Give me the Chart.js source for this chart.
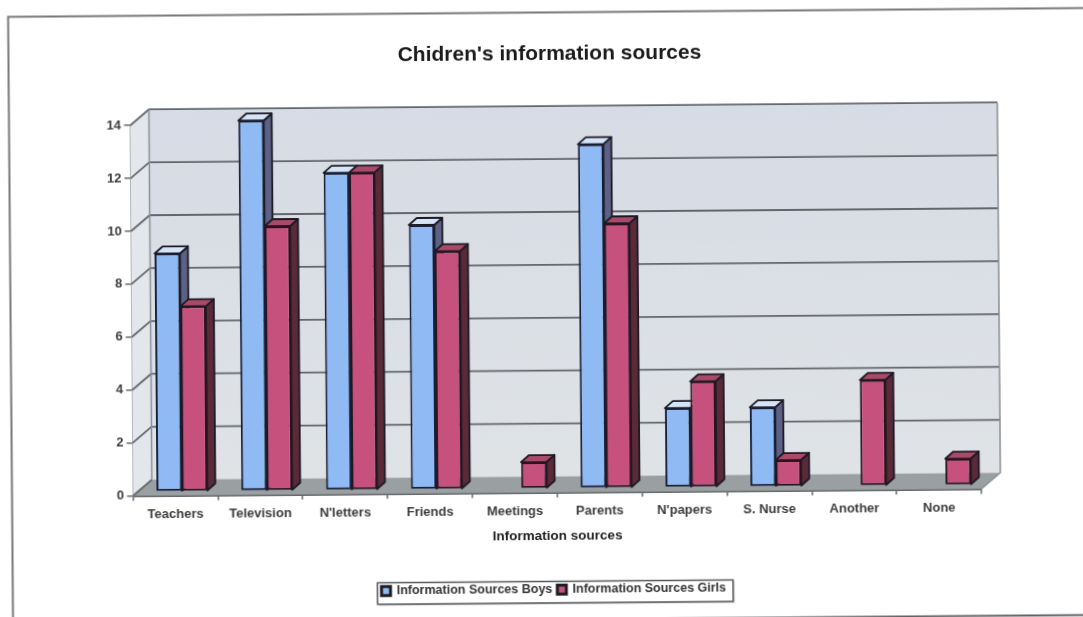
<!DOCTYPE html>
<html>
<head>
<meta charset="utf-8">
<title>Chidren's information sources</title>
<script src="https://cdn.jsdelivr.net/npm/chart.js@4"></script>
<style>
    html, body { margin: 0; padding: 0; background: #fff; overflow: hidden; width: 1083px; height: 617px; }
    /* the whole page sits slightly tilted */
    #sourcesChart { display: block; transform-origin: 541.5px 308.5px; transform: rotate(-0.47deg); }
</style>
</head>
<body>
<canvas id="sourcesChart" width="1095" height="625"></canvas>
<script>
const categories = ['Teachers', 'Television', "N'letters", 'Friends', 'Meetings', 'Parents', "N'papers", 'S. Nurse', 'Another', 'None'];
const boysValues = [9, 14, 12, 10, 0, 13, 3, 3, 0, 0];
const girlsValues = [7, 10, 12, 9, 1, 10, 4, 1, 4, 1];
const yTickValues = [0, 2, 4, 6, 8, 10, 12, 14];

const FONT = '"Liberation Sans", Arial, sans-serif';
const WALL = { dx: 19, dy: -16 };    // floor/back wall depth
const BAR_SHIFT = { dx: 6.5, dy: -4 }; // bars stand in the middle of the floor
const BAR_DEPTH = { dx: 8, dy: -7 };

const FACES = [
    { top: '#d5e4f7', side: '#5d6186' },
    { top: '#a84a68', side: '#5a2a38' }
];

function poly(ctx, points, fill, stroke) {
    ctx.beginPath();
    points.forEach(([x, y], i) => i ? ctx.lineTo(x, y) : ctx.moveTo(x, y));
    ctx.closePath();
    if (fill) {
        ctx.fillStyle = fill;
        ctx.fill();
    }
    if (stroke) {
        ctx.strokeStyle = stroke;
        ctx.lineWidth = 1.8;
        ctx.stroke();
    }
}

function drawWalls(chart) {
    const { ctx, chartArea: { left, right, top, bottom }, scales: { y } } = chart;
    const { dx, dy } = WALL;

    const back = ctx.createLinearGradient(0, top + dy, 0, bottom + dy);
    back.addColorStop(0, '#d6dbe5');
    back.addColorStop(1, '#dfe3e6');

    poly(ctx, [[left, bottom], [left, top], [left + dx, top + dy], [left + dx, bottom + dy]], '#e3e6ea');
    poly(ctx, [[left + dx, top + dy], [right + dx, top + dy], [right + dx, bottom + dy], [left + dx, bottom + dy]], back);
    poly(ctx, [[left, bottom], [right, bottom], [right + dx, bottom + dy], [left + dx, bottom + dy]], '#9a9fa2');

    // gridlines run along the side wall and across the back
    ctx.strokeStyle = '#63676c';
    ctx.lineWidth = 1.8;
    yTickValues.forEach(v => {
        const py = y.getPixelForValue(v);
        ctx.beginPath();
        ctx.moveTo(left, py);
        ctx.lineTo(left + dx, py + dy);
        if (v > 0) ctx.lineTo(right + dx, py + dy);
        ctx.stroke();
    });

    ctx.strokeStyle = '#8b8f94';
    ctx.lineWidth = 1.5;
    ctx.beginPath();
    ctx.moveTo(left + dx, bottom + dy);
    ctx.lineTo(left + dx, top + dy);
    ctx.moveTo(right + dx, top + dy);
    ctx.lineTo(right + dx, bottom + dy);
    ctx.lineTo(right, bottom);
    ctx.stroke();
}

function drawBarFaces(chart) {
    const { ctx } = chart;
    const { dx, dy } = BAR_DEPTH;
    ctx.save();
    ctx.translate(BAR_SHIFT.dx, BAR_SHIFT.dy);
    ctx.lineJoin = 'round';
    [0, 1].forEach(ds => {
        chart.getDatasetMeta(ds).data.forEach((bar, i) => {
            if (!chart.data.datasets[ds].data[i]) return;
            const l = bar.x - bar.width / 2, r = bar.x + bar.width / 2;
            const t = bar.y, b = bar.base;
            poly(ctx, [[r, t], [r + dx, t + dy], [r + dx, b + dy], [r, b]], FACES[ds].side, '#1c1a24');
            poly(ctx, [[l, t], [r, t], [r + dx, t + dy], [l + dx, t + dy]], FACES[ds].top, '#1c1a24');
        });
    });
    ctx.restore();
}

const scenery = {
    id: 'scenery',
    beforeDraw(chart) {
        const { ctx } = chart;
        ctx.save();
        ctx.lineWidth = 2;
        ctx.strokeStyle = '#77797c';
        ctx.beginPath();
        ctx.moveTo(10.5, 625);
        ctx.lineTo(10.5, 12.5);
        ctx.lineTo(1095, 12.5);
        ctx.stroke();
        ctx.strokeStyle = '#5f6164';
        ctx.beginPath();
        ctx.moveTo(10.5, 619.5);
        ctx.lineTo(1095, 619.5);
        ctx.stroke();
        ctx.restore();
    },
    beforeDatasetsDraw(chart) {
        drawWalls(chart);
        drawBarFaces(chart);
    },
    beforeDatasetDraw(chart) {
        chart.ctx.save();
        chart.ctx.translate(BAR_SHIFT.dx, BAR_SHIFT.dy);
    },
    afterDatasetDraw(chart) {
        chart.ctx.restore();
    },
    afterDraw(chart) {
        // box around the legend items only, the legend itself spans the full width
        const { ctx, legend } = chart;
        const boxes = legend.legendHitBoxes;
        const x0 = boxes[0].left - 4;
        const x1 = boxes[boxes.length - 1].left + boxes[boxes.length - 1].width + 7;
        const y0 = legend.top + 3;
        const h = legend.height - 6;
        ctx.save();
        ctx.fillStyle = 'rgba(0,0,0,0.18)';
        ctx.fillRect(x0 + 1.5, y0 + 1.5, x1 - x0, h);
        ctx.fillStyle = '#fff';
        ctx.fillRect(x0, y0, x1 - x0, h);
        ctx.strokeStyle = '#55585c';
        ctx.lineWidth = 1.5;
        ctx.strokeRect(x0, y0, x1 - x0, h);
        ctx.restore();
        legend.draw();
    }
};

new Chart(document.getElementById('sourcesChart'), {
    type: 'bar',
    data: {
        labels: categories,
        datasets: [
            {
                label: 'Information Sources Boys',
                data: boysValues,
                backgroundColor: '#8fbaf3',
                borderColor: '#16203a',
                borderWidth: c => c.raw === 0 ? 0 : 2,
                borderSkipped: false
            },
            {
                label: 'Information Sources Girls',
                data: girlsValues,
                backgroundColor: '#c5517c',
                borderColor: '#2a1420',
                borderWidth: c => c.raw === 0 ? 0 : 2,
                borderSkipped: false
            }
        ]
    },
    options: {
        responsive: false,
        animation: false,
        events: [],
        layout: { padding: { left: 20, right: 12, top: 0, bottom: 19 } },
        datasets: { bar: { categoryPercentage: 0.6, barPercentage: 1 } },
        scales: {
            x: {
                grid: { drawOnChartArea: false, drawTicks: true, tickLength: 5, color: '#66696d', lineWidth: 1.5 },
                border: { color: '#66696d', width: 2 },
                ticks: { color: '#3c3c3c', font: { family: FONT, size: 13, weight: 'bold' }, padding: 6, maxRotation: 0, autoSkip: false },
                title: {
                    display: true,
                    text: 'Information sources',
                    color: '#222',
                    font: { family: FONT, size: 13.5, weight: 'bold' },
                    padding: { top: 4, bottom: 34 }
                },
                afterFit(scale) { scale.height = 86; }
            },
            y: {
                min: 0,
                max: 14,
                afterBuildTicks(scale) { scale.ticks = yTickValues.map(value => ({ value })); },
                grid: { drawOnChartArea: false, drawTicks: true, tickLength: 6, color: '#66696d', lineWidth: 1.5 },
                border: { color: '#85888c', width: 2 },
                ticks: { color: '#3c3c3c', font: { family: FONT, size: 13, weight: 'bold' }, padding: 3 },
                afterFit(scale) { scale.width = 111.5; }
            },
            // empty axis that only reserves the margin on the right
            spacer: {
                position: 'right',
                grid: { display: false },
                border: { display: false },
                ticks: { display: false },
                afterFit(scale) { scale.width = 103; }
            }
        },
        plugins: {
            title: {
                display: true,
                text: "Chidren's information sources",
                color: '#1a1a1a',
                font: { family: FONT, size: 21, weight: 'bold' },
                padding: { top: 42, bottom: 55 }
            },
            legend: {
                position: 'bottom',
                labels: {
                    color: '#333',
                    font: { family: FONT, size: 12.5, weight: 'bold' },
                    boxWidth: 9,
                    boxHeight: 9,
                    padding: 5,
                    generateLabels(chart) {
                        // near-black swatches with a thick outline
                        return Chart.defaults.plugins.legend.labels.generateLabels(chart)
                            .map(item => ({ ...item, strokeStyle: '#1c1c22', lineWidth: 3 }));
                    }
                }
            },
            tooltip: { enabled: false }
        }
    },
    plugins: [scenery]
});
</script>
</body>
</html>
